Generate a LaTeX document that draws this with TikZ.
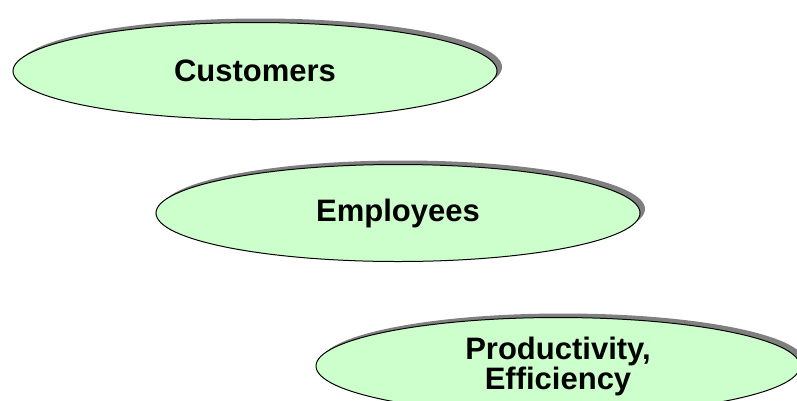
\documentclass[tikz,border=0pt]{standalone}
\usepackage{fontspec}
\setmainfont{Liberation Sans}
\usetikzlibrary{shapes.geometric,shadows}
\definecolor{palegreen}{HTML}{CCFFCC}
\begin{document}
\begin{tikzpicture}[x=1pt,y=-1pt,
      stage/.style={ellipse, draw=black, line width=1pt, fill=palegreen,
        minimum width=484pt, minimum height=97pt, inner sep=0pt, align=center,
        font=\fontsize{31}{30}\selectfont\bfseries,
        drop shadow={shadow xshift=5pt, shadow yshift=4pt, fill=gray, opacity=1}}]
  \useasboundingbox (0,0) rectangle (797,400);
  \node[stage] (customers) at (255,71) {Customers};
  \node[stage] (employees) at (398,213) {Employees};
  \node[stage] (productivity) at (558,366) {Productivity,\\Efficiency};
\end{tikzpicture}
\end{document}
